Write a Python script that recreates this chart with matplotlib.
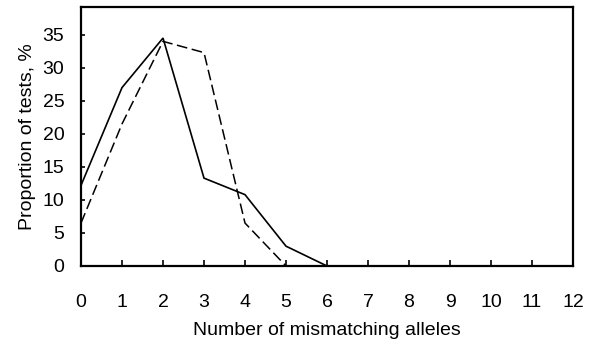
import matplotlib
matplotlib.use("Agg")
import matplotlib.pyplot as plt

plt.rcParams["font.family"] = ["Liberation Sans", "DejaVu Sans"]

# number of mismatching alleles
x_solid = [0, 1, 2, 3, 4, 5, 6]
y_solid = [12.2, 27.0, 34.5, 13.3, 10.8, 3.0, 0.0]
x_dashed = [0, 1, 2, 3, 4, 5]
y_dashed = [6.5, 21.5, 34.0, 32.3, 6.5, 0.0]
xticks = list(range(0, 13))
yticks = [0, 5, 10, 15, 20, 25, 30, 35]

FS = 14

fig = plt.figure(figsize=(5.91, 3.45), dpi=100)
ax = fig.add_axes([81 / 591, 1 - 266 / 345, (573 - 81) / 591, (266 - 7) / 345])

ax.plot(x_solid, y_solid, color="black", lw=1.2, solid_joinstyle="miter")
ax.plot(x_dashed, y_dashed, color="black", lw=1.1, dashes=(7, 3))

ax.set_xlim(0, 12)
ax.set_ylim(0, 39.2)
ax.set_xticks(xticks)
ax.set_yticks(yticks)
ax.tick_params(axis="x", direction="in", length=4.5, width=1.2, pad=20, labelsize=FS)
ax.tick_params(axis="y", direction="in", length=3, width=1.2, pad=12, labelsize=FS)
for s in ax.spines.values():
    s.set_linewidth(1.6)

ax.set_xlabel("Number of mismatching alleles", fontsize=FS, labelpad=8)
ax.set_ylabel("Proportion of tests, %", fontsize=FS, labelpad=5)

fig.savefig("out.png", dpi=100)
